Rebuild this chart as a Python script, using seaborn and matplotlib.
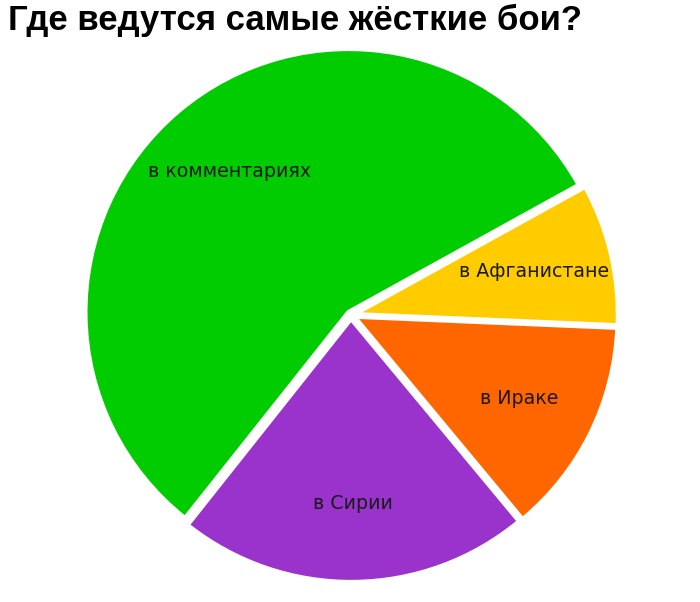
import matplotlib.pyplot as plt
import seaborn as sns

# Данные диаграммы
labels = ["в комментариях", "в Сирии", "в Ираке", "в Афганистане"]
shares = [56.3, 21.7, 13.3, 8.7]
colors = ["#00cc00", "#9933cc", "#ff6600", "#ffcc00"]

sns.set_theme(style="white")
plt.rcParams['font.family'] = ['DejaVu Sans']

fig = plt.figure(figsize=(7, 6.02), dpi=100)

# оси подобраны так, чтобы центр круга был в (351, 315) px, радиус ~263 px
R = 263
half = 1.1 * R
ax = fig.add_axes([(351 - half) / 700, (602 - 315 - half) / 602,
                   2 * half / 700, 2 * half / 602])

wedges, texts = ax.pie(
    shares,
    labels=labels,
    colors=colors,
    startangle=28.9,
    counterclock=True,
    explode=[0.015] * len(shares),
    labeldistance=0.70,
    wedgeprops=dict(edgecolor="white", linewidth=3),
    textprops=dict(fontsize=13.7, color="#1a1a1a", ha="center", va="center"),
)
ax.set_xlim(-1.1, 1.1)
ax.set_ylim(-1.1, 1.1)
ax.set_aspect("equal")
ax.axis("off")

fig.text(8 / 700, 1 - 4 / 602, "Где ведутся самые жёсткие бои?",
         fontsize=25, fontweight="bold", family=["Liberation Sans", "DejaVu Sans"],
         ha="left", va="top", color="black")

fig.savefig("out.png", dpi=100)
